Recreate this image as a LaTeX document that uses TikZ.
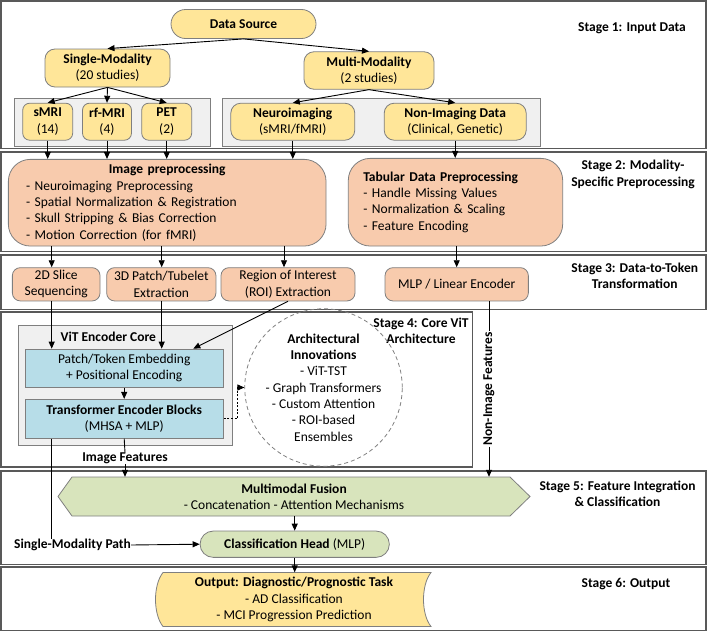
\documentclass[tikz,border=0pt]{standalone}
\usepackage{fontspec}
\setmainfont{Carlito}
\usetikzlibrary{arrows.meta,shapes.misc,calc}

\definecolor{gold}{HTML}{FFE699}
\definecolor{peach}{HTML}{F8CBAD}
\definecolor{iceblue}{HTML}{B7DDE8}
\definecolor{sage}{HTML}{D8E4BC}
\definecolor{panel}{HTML}{F0F0F0}
\definecolor{edge}{HTML}{7F7F7F}
\definecolor{frame}{HTML}{595959}

\begin{document}
\begin{tikzpicture}[x=1pt,y=-1pt,
  every node/.style={font=\fontsize{13.5}{16.3}\selectfont, inner sep=0pt, align=center},
  stageframe/.style={draw=frame, line width=1.1pt},
  stagelabel/.style={font=\fontsize{13.5}{16.3}\selectfont\bfseries},
  fillbox/.style={draw=edge, line width=0.8pt},
  goldbox/.style={fillbox, fill=gold},
  peachbox/.style={fillbox, fill=peach},
  bluebox/.style={fillbox, fill=iceblue},
  greenbox/.style={fillbox, fill=sage},
  panelbox/.style={draw=edge, line width=0.8pt, fill=panel},
  ln/.style={line width=0.9pt},
  arr/.style={ln, -{Triangle[length=7pt,width=6pt]}},
  dotarr/.style={ln, dash pattern=on 2pt off 1.6pt, -{Triangle[length=7pt,width=6pt]}}
]
\useasboundingbox (0,0) rectangle (707,632);

% ---------- stage frames ----------
\draw[stageframe] (1,1) rectangle (706,148.5);
\draw[stageframe] (1,152) rectangle (706,251.5);
\draw[stageframe] (1,255) rectangle (706,309.5);
\draw[stageframe] (1,312) rectangle (472.7,467);
\draw[stageframe] (1,471) rectangle (706,564.3);
\draw[stageframe] (1,567) rectangle (706,630.5);

\node[stagelabel] (lab1) at (632,28) {Stage 1: Input Data};
\node[stagelabel] (lab2) at (633,174.5) {Stage 2: Modality-\\Specific Preprocessing};
\node[stagelabel] (lab3) at (634.7,275.5) {Stage 3: Data-to-Token\\Transformation};
\node[stagelabel] (lab4) at (421,330.5) {Stage 4: Core ViT\\Architecture};
\node[stagelabel] (lab5) at (617.5,494) {Stage 5: Feature Integration\\\& Classification};
\node[stagelabel] (lab6) at (626,584) {Stage 6: Output};

% ---------- stage 1: input data ----------
\node[goldbox, rounded rectangle, minimum width=145, minimum height=29] (ds) at (243.5,24) {\textbf{Data Source}};
\node[goldbox, rounded corners=10pt, minimum width=125, minimum height=38] (single) at (107.5,68) {\textbf{Single-Modality}\\(20 studies)};
\node[goldbox, rounded corners=10pt, minimum width=130, minimum height=37.5] (multi) at (369,70.5) {\textbf{Multi-Modality}\\(2 studies)};

\node[panelbox, minimum width=196.7, minimum height=48.4] (grpL) at (112.35,122.5) {};
\node[panelbox, minimum width=317.6, minimum height=48.4] (grpR) at (381.5,122.5) {};

\node[goldbox, rounded corners=7pt, minimum width=50, minimum height=37] (smri) at (47.7,121.7) {\textbf{sMRI}\\(14)};
\node[goldbox, rounded corners=7pt, minimum width=49, minimum height=37] (rfmri) at (107,121.7) {\textbf{rf-MRI}\\(4)};
\node[goldbox, rounded corners=7pt, minimum width=50, minimum height=37] (pet) at (166.7,121.7) {\textbf{PET}\\(2)};
\node[goldbox, rounded corners=10pt, minimum width=124, minimum height=37] (neuro) at (292.8,121.7) {\textbf{Neuroimaging}\\(sMRI/fMRI)};
\node[goldbox, rounded corners=10pt, minimum width=142, minimum height=37] (nonimg) at (455.2,121.7) {\textbf{Non-Imaging Data}\\(Clinical, Genetic)};

\draw[arr] (ds.south) -- (single.north);
\draw[arr] (ds.south) -- (multi.north);
\draw[arr] (single.south) -- (smri.north);
\draw[arr] (single.south) -- (rfmri.north);
\draw[arr] (single.south) -- (pet.north);
\draw[arr] (multi.south) -- (neuro.north);
\draw[arr] (multi.south) -- (nonimg.north);

% ---------- stage 2: preprocessing ----------
\node[peachbox, rounded corners=22pt, minimum width=317.7, minimum height=86.7,
      text width=282.3, inner xsep=17.7, align=left] (imgprep) at (167.2,202.7)
  {\makebox[\linewidth][c]{\textbf{Image preprocessing}}\\
   - Neuroimaging Preprocessing\\
   - Spatial Normalization \& Registration\\
   - Skull Stripping \& Bias Correction\\
   - Motion Correction (for fMRI)};
\node[peachbox, rounded corners=22pt, minimum width=214.4, minimum height=87.7,
      text width=184.4, inner xsep=15, align=left] (tab) at (455.5,202.2)
  {\textbf{Tabular Data Preprocessing}\\
   - Handle Missing Values\\
   - Normalization \& Scaling\\
   - Feature Encoding};

\draw[arr] (smri.south) -- (smri.south |- imgprep.north);
\draw[arr] (rfmri.south) -- (rfmri.south |- imgprep.north);
\draw[arr] (pet.south) -- (pet.south |- imgprep.north);
\draw[arr] (neuro.south) -- (neuro.south |- imgprep.north);
\draw[arr] (nonimg.south) -- (nonimg.south |- tab.north);

% ---------- stage 3: tokens ----------
\node[peachbox, rounded corners=8pt, minimum width=87.7, minimum height=33.3] (s2d) at (56.2,284.3) {2D Slice\\Sequencing};
\node[peachbox, rounded corners=8pt, minimum width=109.3, minimum height=33.3] (s3d) at (161.3,284.3) {3D Patch/Tubelet\\Extraction};
\node[peachbox, rounded corners=8pt, minimum width=134, minimum height=33.3] (roi) at (288,284.3) {Region of Interest\\(ROI) Extraction};
\node[peachbox, rounded corners=8pt, minimum width=143.3, minimum height=33.3] (mlp) at (456.7,284.3) {MLP / Linear Encoder};

\coordinate (xa) at (51.7,0);
\coordinate (xb) at (161.7,0);
\coordinate (xc) at (284,0);
\coordinate (xd) at (193.3,0);
\coordinate (xe) at (489,0);

\draw[arr] (imgprep.south -| xa) -- (s2d.north -| xa);
\draw[arr] (imgprep.south -| xb) -- (s3d.north -| xb);
\draw[arr] (imgprep.south -| xc) -- (roi.north -| xc);
\draw[arr] (tab.south -| mlp.north) -- (mlp.north);

% ---------- stage 4: core ViT ----------
\node[panelbox, minimum width=214.4, minimum height=120.7] (core) at (125.5,385.3) {};
\node[font=\fontsize{13.5}{16.3}\selectfont\bfseries] (corelab) at (108.3,336.7) {ViT Encoder Core};
\node[bluebox, minimum width=198.3, minimum height=38.3] (patch) at (124.2,368.2) {Patch/Token Embedding\\+ Positional Encoding};
\node[bluebox, minimum width=198.3, minimum height=39] (tenc) at (124.2,418.8) {\textbf{Transformer Encoder Blocks}\\(MHSA + MLP)};
\node[circle, draw=edge, line width=0.8pt, dash pattern=on 4pt off 3pt, minimum size=152] (arch) at (323.5,387.5)
  {\textbf{Architectural}\\\textbf{Innovations}\\- ViT-TST\\- Graph Transformers\\- Custom Attention\\- ROI-based\\Ensembles};

\draw[arr] (s2d.south -| xa) -- (patch.north -| xa);
\draw[arr] (s3d.south -| xb) -- (patch.north -| xb);
\draw[arr] (roi.south) -- (patch.north -| xd);
\draw[arr] (patch.south) -- (tenc.north);
\draw[dotarr] (tenc.east) -- ++(13.5,0) |- (arch.west);

\node[font=\fontsize{13.5}{16.3}\selectfont\bfseries] (imf) at (125,458.3) {Image Features};
\node[font=\fontsize{13.5}{16.3}\selectfont\bfseries, rotate=90, fill=white, inner xsep=1pt] (nif) at (489,389) {Non-Image Features};

% ---------- stage 5: fusion and classification ----------
\node[minimum width=472, minimum height=39] (fuse) at (294,496.5) {};
\draw[greenbox] (58,496.5) -- (72,477) -- (510,477) -- (530,496.5) -- (510,516) -- (72,516) -- cycle;
\node (fusetxt) at (fuse.center) {\textbf{Multimodal Fusion}\\- Concatenation - Attention Mechanisms};
\node[greenbox, rounded rectangle, minimum width=189.3, minimum height=26.3] (ch) at (294.7,544.2) {\textbf{Classification Head} (MLP)};
\node[font=\fontsize{13.5}{16.3}\selectfont\bfseries] (smp) at (72.5,545) {Single-Modality Path};

\draw[ln] (tenc.south) -- (imf.north);
\draw[arr] (imf.south) -- (imf.south |- fuse.north);
\draw[ln] (mlp.south -| xe) -- (nif.east);
\draw[arr] (nif.west) -- (nif.west |- fuse.north);
\draw[ln] (tenc.south -| xa) -- (smp.north -| xa);
\draw[arr] (smp.east) -- (ch.west);
\draw[arr] (fuse.south -| ch.north) -- (ch.north);

% ---------- stage 6: output ----------
\node[minimum width=270, minimum height=54] (out) at (296,599.5) {};
\draw[goldbox] (163,572.5) -- (431,572.5) .. controls (421,585) and (421,614) .. (431,626.5)
  -- (163,626.5) .. controls (153,614) and (153,585) .. (163,572.5) -- cycle;
\node (outtxt) at (294,599.5) {\textbf{Output: Diagnostic/Prognostic Task}\\- AD Classification\\- MCI Progression Prediction};
\draw[arr] (ch.south) -- (ch.south |- out.north);

\end{tikzpicture}
\end{document}
